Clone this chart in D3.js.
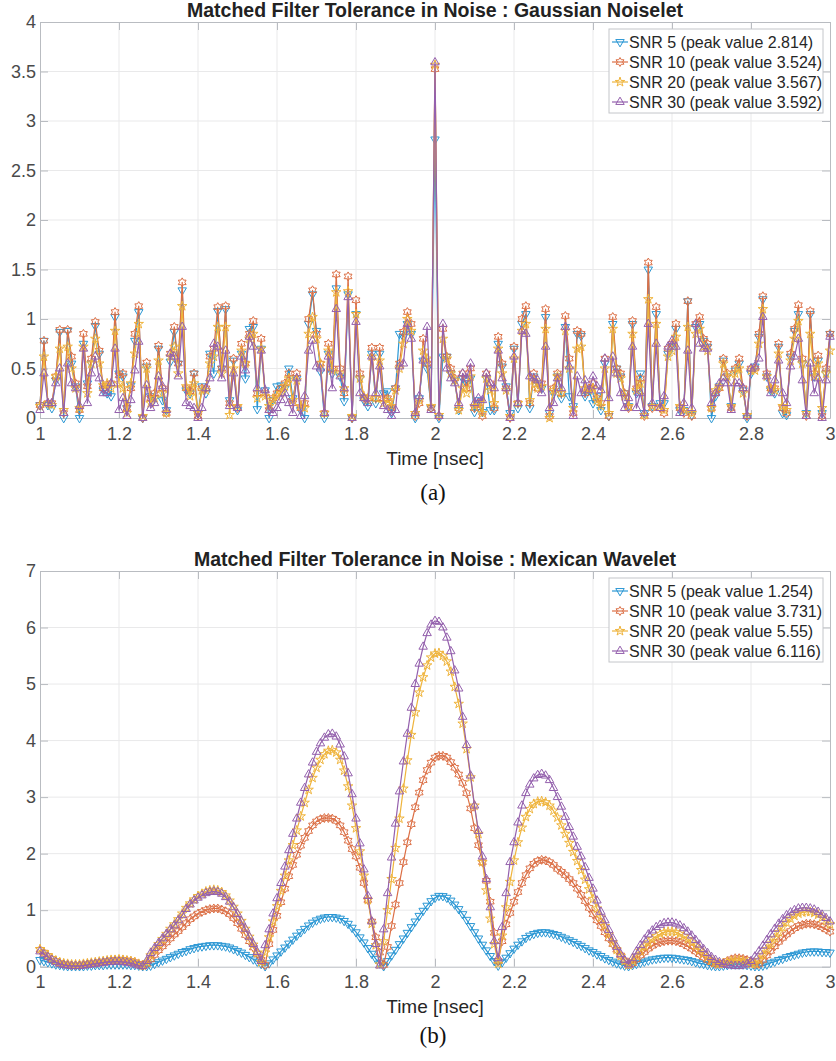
<!DOCTYPE html>
<html>
<head>
<meta charset="utf-8">
<script src="https://cdn.jsdelivr.net/npm/d3@7/dist/d3.min.js"></script>
<style>
  body { margin: 0; background: #fff; }
  svg { display: block; font-family: "Liberation Sans", Arial, Helvetica, sans-serif; }
</style>
</head>
<body>
<svg id="fig" width="836" height="1061"></svg>
<script>
// sampling grid, 1 to 3 nsec in 0.01 steps
var time = d3.range(201).map(function(i) { return 1 + i / 100; });

var seriesNames = ['SNR 5', 'SNR 10', 'SNR 20', 'SNR 30'];
var gaussPeaks = ['2.814', '3.524', '3.567', '3.592'];
var mexPeaks = ['1.254', '3.731', '5.55', '6.116'];

var xTicks = [1, 1.2, 1.4, 1.6, 1.8, 2, 2.2, 2.4, 2.6, 2.8, 3];
var xTickLabels = ['1', '1.2', '1.4', '1.6', '1.8', '2', '2.2', '2.4', '2.6', '2.8', '3'];
var gaussYTicks = [0, 0.5, 1, 1.5, 2, 2.5, 3, 3.5, 4];
var gaussYLabels = ['0', '0.5', '1', '1.5', '2', '2.5', '3', '3.5', '4'];
var mexYTicks = [0, 1, 2, 3, 4, 5, 6, 7];
var mexYLabels = ['0', '1', '2', '3', '4', '5', '6', '7'];

// (a) Gaussian noiselet, matched filter output
var gaussSnr5 = [
  0.13,0.78,0.13,0.10,0.38,0.87,0.00,0.88,0.55,0.32,
  0.00,0.75,0.35,0.55,0.93,0.65,0.28,0.25,0.22,1.02,
  0.45,0.42,0.10,0.33,0.78,1.07,0.00,0.52,0.22,0.20,
  0.70,0.18,0.08,0.57,0.87,0.55,1.29,0.28,0.25,0.45,
  0.05,0.32,0.25,0.65,0.45,1.08,0.50,1.10,0.18,0.58,
  0.08,0.65,0.40,0.90,0.92,0.09,0.70,0.28,0.00,0.18,
  0.32,0.33,0.30,0.50,0.20,0.40,0.08,0.00,0.95,1.25,
  0.88,0.47,0.00,0.65,0.45,1.31,0.42,0.17,1.25,0.00,
  1.05,0.40,0.18,0.12,0.65,0.15,0.65,0.25,0.27,0.05,
  0.30,0.85,0.82,0.95,0.85,0.00,0.20,0.58,0.50,0.10,
  2.814,0.00,0.62,0.62,0.45,0.38,0.08,0.40,0.35,0.40,
  0.06,0.18,0.06,0.40,0.08,0.08,0.75,0.52,0.32,0.05,
  0.70,0.10,0.95,1.05,0.10,0.42,0.35,0.30,1.02,0.05,
  0.25,0.42,0.20,0.92,0.22,0.12,0.85,0.83,0.22,0.28,
  0.15,0.22,0.08,0.55,0.02,0.95,0.50,0.42,0.25,0.12,
  0.95,0.25,0.45,0.05,1.50,0.12,1.05,0.15,0.15,0.65,
  0.72,0.90,0.08,0.08,1.18,0.03,0.92,0.95,0.78,0.72,
  0.00,0.22,0.32,0.58,0.42,0.12,0.48,0.55,0.28,0.00,
  0.45,0.52,0.82,1.20,0.42,0.28,0.25,0.72,0.05,0.03,
  0.62,0.88,1.05,0.55,0.05,1.05,0.42,0.58,0.05,0.45,
  0.85];
var gaussSnr10 = [
  0.13,0.78,0.15,0.15,0.42,0.89,0.05,0.89,0.62,0.35,
  0.08,0.85,0.32,0.60,0.97,0.68,0.30,0.33,0.35,1.07,
  0.43,0.45,0.10,0.30,0.85,1.13,0.00,0.56,0.20,0.25,
  0.73,0.30,0.05,0.65,0.92,0.55,1.37,0.30,0.27,0.45,
  0.02,0.30,0.30,0.62,0.70,1.12,0.50,1.13,0.15,0.60,
  0.10,0.75,0.55,0.85,0.98,0.25,0.80,0.25,0.08,0.20,
  0.25,0.30,0.35,0.45,0.15,0.45,0.10,0.15,1.00,1.29,
  0.85,0.55,0.05,0.75,0.50,1.45,0.50,0.25,1.43,0.00,
  1.19,0.45,0.20,0.20,0.71,0.20,0.71,0.20,0.20,0.10,
  0.30,0.55,0.87,1.07,0.95,0.02,0.15,0.80,0.55,0.10,
  3.524,0.02,0.90,0.62,0.50,0.40,0.10,0.45,0.30,0.50,
  0.10,0.15,0.02,0.45,0.35,0.10,0.82,0.55,0.30,0.00,
  0.72,0.15,1.00,1.13,0.15,0.45,0.30,0.35,1.10,0.02,
  0.30,0.45,0.25,1.03,0.60,0.05,0.88,0.85,0.25,0.30,
  0.35,0.20,0.15,0.60,0.02,1.02,0.50,0.45,0.25,0.10,
  0.98,0.30,0.40,0.02,1.57,0.10,1.12,0.10,0.05,0.70,
  0.75,0.95,0.10,0.05,1.18,0.02,0.95,1.02,0.80,0.75,
  0.10,0.25,0.30,0.60,0.45,0.10,0.50,0.60,0.30,0.02,
  0.50,0.50,0.85,1.23,0.45,0.30,0.30,0.75,0.10,0.05,
  0.65,0.90,1.14,0.60,0.02,1.08,0.45,0.63,0.02,0.50,
  0.85];
var gaussSnr20 = [
  0.12,0.62,0.15,0.13,0.42,0.70,0.08,0.72,0.50,0.30,
  0.10,0.72,0.25,0.55,0.80,0.55,0.33,0.35,0.30,0.88,
  0.35,0.30,0.05,0.35,0.65,0.95,0.02,0.50,0.15,0.20,
  0.58,0.25,0.05,0.62,0.72,0.45,1.13,0.32,0.22,0.35,
  0.05,0.28,0.28,0.55,0.62,0.92,0.45,0.92,0.03,0.50,
  0.12,0.68,0.55,0.80,0.85,0.20,0.70,0.22,0.12,0.18,
  0.22,0.25,0.32,0.40,0.18,0.38,0.12,0.10,0.85,1.02,
  0.80,0.55,0.05,0.68,0.48,1.27,0.45,0.30,1.28,0.02,
  1.05,0.40,0.22,0.18,0.62,0.20,0.58,0.15,0.18,0.12,
  0.28,0.50,0.75,1.00,0.88,0.05,0.18,0.68,0.60,0.12,
  3.567,0.03,0.80,0.60,0.45,0.38,0.08,0.30,0.25,0.42,
  0.12,0.15,0.05,0.40,0.28,0.15,0.70,0.45,0.28,0.02,
  0.60,0.15,0.88,0.95,0.18,0.38,0.30,0.32,0.90,0.00,
  0.28,0.42,0.25,0.88,0.50,0.10,0.70,0.72,0.30,0.28,
  0.30,0.18,0.12,0.50,0.05,0.90,0.45,0.40,0.22,0.12,
  0.85,0.28,0.35,0.03,1.20,0.12,0.95,0.12,0.08,0.62,
  0.68,0.82,0.12,0.08,0.92,0.05,0.85,0.90,0.72,0.68,
  0.10,0.28,0.32,0.55,0.42,0.12,0.45,0.50,0.25,0.03,
  0.48,0.48,0.75,1.10,0.42,0.30,0.28,0.65,0.12,0.08,
  0.58,0.80,0.98,0.55,0.05,0.85,0.42,0.55,0.10,0.45,
  0.68];
var gaussSnr30 = [
  0.08,0.45,0.15,0.15,0.35,0.50,0.05,0.55,0.35,0.30,
  0.12,0.70,0.15,0.45,0.62,0.40,0.25,0.25,0.35,0.70,
  0.08,0.20,0.02,0.18,0.48,0.77,0.00,0.33,0.10,0.15,
  0.42,0.32,0.08,0.65,0.62,0.42,0.92,0.15,0.12,0.10,
  0.00,0.10,0.30,0.40,0.75,0.72,0.40,0.68,0.12,0.45,
  0.10,0.62,0.48,0.82,0.72,0.30,0.68,0.28,0.08,0.05,
  0.10,0.18,0.25,0.15,0.05,0.40,0.02,0.22,0.68,0.78,
  0.52,0.50,0.05,0.62,0.30,1.10,0.42,0.30,1.22,0.00,
  0.97,0.25,0.20,0.15,0.62,0.25,0.52,0.12,0.08,0.02,
  0.08,0.52,0.55,0.95,0.80,0.05,0.22,0.58,0.92,0.08,
  3.592,0.02,0.95,0.50,0.40,0.35,0.15,0.45,0.40,0.55,
  0.15,0.20,0.18,0.45,0.35,0.30,0.68,0.40,0.30,0.00,
  0.62,0.15,0.88,0.85,0.42,0.40,0.38,0.25,0.72,0.10,
  0.15,0.40,0.30,0.92,0.52,0.02,0.42,0.25,0.38,0.28,
  0.42,0.32,0.28,0.60,0.20,0.62,0.45,0.25,0.10,0.20,
  0.72,0.10,0.25,0.05,0.95,0.15,0.75,0.10,0.22,0.72,
  0.78,0.72,0.05,0.15,0.68,0.10,0.95,0.75,0.70,0.70,
  0.15,0.25,0.35,0.40,0.35,0.08,0.35,0.35,0.30,0.02,
  0.50,0.52,0.60,1.02,0.42,0.25,0.38,0.58,0.25,0.15,
  0.52,0.62,0.80,0.38,0.02,0.55,0.25,0.40,0.00,0.38,
  0.82];

// (b) Mexican wavelet, matched filter output
var mexSnr5 = [
  0.12,0.10,0.08,0.06,0.04,0.03,0.02,0.01,0.01,0.01,
  0.01,0.01,0.02,0.02,0.03,0.03,0.03,0.04,0.04,0.04,
  0.04,0.04,0.04,0.03,0.03,0.02,0.01,0.01,0.02,0.05,
  0.08,0.11,0.14,0.17,0.20,0.23,0.26,0.28,0.31,0.33,
  0.35,0.36,0.37,0.38,0.38,0.38,0.37,0.36,0.34,0.31,
  0.28,0.25,0.21,0.17,0.13,0.09,0.05,0.01,0.06,0.13,
  0.20,0.27,0.34,0.41,0.48,0.55,0.61,0.67,0.73,0.78,
  0.82,0.85,0.87,0.88,0.88,0.87,0.85,0.81,0.76,0.69,
  0.61,0.52,0.43,0.33,0.23,0.14,0.06,0.01,0.10,0.20,
  0.30,0.40,0.50,0.60,0.70,0.80,0.90,0.99,1.08,1.16,
  1.22,1.254,1.25,1.22,1.17,1.10,1.02,0.93,0.83,0.72,
  0.61,0.50,0.39,0.29,0.19,0.10,0.02,0.08,0.16,0.24,
  0.32,0.39,0.45,0.51,0.55,0.58,0.60,0.61,0.61,0.60,
  0.58,0.56,0.53,0.50,0.47,0.44,0.40,0.37,0.33,0.29,
  0.26,0.22,0.19,0.15,0.12,0.09,0.06,0.04,0.02,0.01,
  0.03,0.05,0.07,0.09,0.11,0.13,0.14,0.15,0.16,0.16,
  0.16,0.15,0.14,0.13,0.12,0.10,0.08,0.06,0.05,0.03,
  0.02,0.01,0.01,0.02,0.03,0.04,0.04,0.04,0.04,0.03,
  0.02,0.01,0.01,0.02,0.04,0.07,0.09,0.12,0.14,0.17,
  0.19,0.21,0.23,0.25,0.26,0.27,0.27,0.27,0.26,0.26,
  0.25];
var mexSnr10 = [
  0.30,0.25,0.19,0.14,0.10,0.07,0.05,0.04,0.03,0.03,
  0.03,0.04,0.05,0.06,0.07,0.08,0.09,0.10,0.11,0.12,
  0.12,0.12,0.11,0.10,0.08,0.05,0.02,0.05,0.13,0.21,
  0.29,0.36,0.43,0.50,0.57,0.63,0.70,0.77,0.84,0.89,
  0.94,0.97,1.00,1.02,1.03,1.03,1.01,0.98,0.93,0.86,
  0.77,0.67,0.56,0.45,0.34,0.23,0.12,0.03,0.40,0.65,
  0.90,1.14,1.38,1.60,1.80,1.98,2.14,2.28,2.40,2.50,
  2.57,2.61,2.63,2.63,2.62,2.58,2.50,2.38,2.23,2.08,
  1.95,1.75,1.48,1.18,0.80,0.52,0.25,0.03,0.35,0.72,
  1.10,1.48,1.85,2.20,2.52,2.82,3.08,3.30,3.48,3.61,
  3.70,3.731,3.73,3.70,3.62,3.52,3.40,3.25,3.07,2.80,
  2.45,2.15,1.85,1.52,1.15,0.60,0.10,0.45,0.75,0.95,
  1.15,1.32,1.48,1.62,1.74,1.82,1.87,1.89,1.88,1.85,
  1.80,1.73,1.68,1.62,1.55,1.48,1.38,1.27,1.16,1.04,
  0.93,0.82,0.72,0.61,0.50,0.40,0.30,0.20,0.11,0.04,
  0.06,0.13,0.20,0.26,0.32,0.37,0.41,0.43,0.45,0.46,
  0.46,0.45,0.43,0.40,0.36,0.32,0.27,0.22,0.17,0.12,
  0.08,0.05,0.05,0.07,0.10,0.13,0.15,0.15,0.14,0.12,
  0.08,0.04,0.05,0.12,0.20,0.28,0.36,0.44,0.51,0.57,
  0.63,0.68,0.72,0.74,0.76,0.76,0.75,0.73,0.70,0.66,
  0.62];
var mexSnr20 = [
  0.31,0.26,0.20,0.15,0.11,0.08,0.06,0.05,0.04,0.04,
  0.04,0.05,0.06,0.07,0.08,0.09,0.10,0.11,0.12,0.12,
  0.13,0.12,0.11,0.10,0.08,0.05,0.02,0.08,0.20,0.30,
  0.40,0.49,0.58,0.67,0.75,0.84,0.94,1.04,1.12,1.19,
  1.25,1.29,1.33,1.35,1.36,1.35,1.32,1.26,1.17,1.06,
  0.94,0.81,0.67,0.53,0.39,0.24,0.08,0.25,0.52,0.80,
  1.07,1.34,1.61,1.88,2.15,2.41,2.66,2.90,3.13,3.34,
  3.52,3.66,3.76,3.82,3.83,3.79,3.66,3.47,3.19,2.85,
  2.45,2.04,1.61,1.18,0.76,0.38,0.04,0.45,1.00,1.55,
  2.10,2.62,3.15,3.65,4.10,4.50,4.85,5.12,5.33,5.47,
  5.54,5.55,5.50,5.40,5.22,4.95,4.65,4.30,3.85,3.35,
  2.85,2.35,1.85,1.35,0.85,0.40,0.05,0.55,1.05,1.50,
  1.88,2.20,2.46,2.65,2.79,2.88,2.92,2.93,2.91,2.85,
  2.76,2.64,2.50,2.35,2.19,2.03,1.87,1.71,1.54,1.37,
  1.20,1.03,0.87,0.72,0.57,0.43,0.30,0.19,0.10,0.03,
  0.10,0.19,0.28,0.36,0.43,0.49,0.54,0.58,0.61,0.62,
  0.62,0.61,0.58,0.54,0.49,0.43,0.37,0.30,0.23,0.17,
  0.11,0.07,0.05,0.06,0.08,0.10,0.11,0.11,0.10,0.08,
  0.05,0.05,0.12,0.21,0.31,0.41,0.51,0.61,0.70,0.78,
  0.85,0.90,0.94,0.96,0.97,0.97,0.95,0.92,0.87,0.81,
  0.75];
var mexSnr30 = [
  0.27,0.22,0.17,0.12,0.08,0.05,0.03,0.02,0.01,0.01,
  0.01,0.02,0.03,0.04,0.05,0.06,0.07,0.08,0.08,0.09,
  0.09,0.08,0.07,0.06,0.04,0.02,0.01,0.10,0.24,0.33,
  0.42,0.50,0.58,0.66,0.73,0.82,0.91,1.02,1.10,1.17,
  1.22,1.26,1.30,1.32,1.33,1.32,1.29,1.23,1.15,1.05,
  0.93,0.80,0.67,0.53,0.40,0.26,0.10,0.38,0.66,0.94,
  1.21,1.48,1.77,2.06,2.35,2.62,2.90,3.16,3.40,3.61,
  3.80,3.95,4.05,4.11,4.12,4.07,3.93,3.72,3.42,3.05,
  2.62,2.18,1.72,1.25,0.80,0.40,0.02,0.66,1.30,1.93,
  2.53,3.10,3.63,4.12,4.58,5.00,5.36,5.66,5.90,6.05,
  6.116,6.10,6.00,5.82,5.58,5.24,4.92,4.42,3.92,3.38,
  2.85,2.40,1.95,1.55,1.05,0.45,0.15,0.70,1.30,1.85,
  2.20,2.55,2.85,3.07,3.22,3.33,3.39,3.41,3.38,3.30,
  3.16,3.00,2.83,2.65,2.47,2.30,2.12,1.95,1.76,1.57,
  1.38,1.17,0.97,0.82,0.65,0.50,0.35,0.22,0.12,0.04,
  0.15,0.27,0.38,0.48,0.57,0.64,0.70,0.74,0.77,0.78,
  0.78,0.76,0.73,0.68,0.62,0.55,0.47,0.39,0.31,0.24,
  0.17,0.12,0.08,0.05,0.03,0.02,0.01,0.01,0.02,0.05,
  0.10,0.18,0.27,0.37,0.47,0.57,0.67,0.76,0.84,0.91,
  0.96,1.00,1.03,1.04,1.04,1.03,1.01,0.97,0.92,0.86,
  0.80];

// styling (MATLAB-like colour order and markers)
var colors = ['#2a97d4', '#dc6f45', '#efb43c', '#9460ad'];
var markerKinds = ['triDown', 'hexagram', 'star', 'triUp'];

var panels = [
  {
    title: 'Matched Filter Tolerance in Noise : Gaussian Noiselet',
    caption: '(a)', captionY: 492,
    top: 22, bottom: 418, yMax: 4,
    yTicks: gaussYTicks, yLabels: gaussYLabels,
    series: [gaussSnr5, gaussSnr10, gaussSnr20, gaussSnr30],
    peaks: gaussPeaks
  },
  {
    title: 'Matched Filter Tolerance in Noise : Mexican Wavelet',
    caption: '(b)', captionY: 1035,
    top: 571, bottom: 966.7, yMax: 7,
    yTicks: mexYTicks, yLabels: mexYLabels,
    series: [mexSnr5, mexSnr10, mexSnr20, mexSnr30],
    peaks: mexPeaks
  }
];

var plotLeft = 40, plotRight = 830, tickLen = 8;

function hexagram(r) {
  var pts = [];
  for (var k = 0; k < 12; k++) {
    var a = Math.PI / 6 * k - Math.PI / 2;
    var rr = k % 2 ? r * 0.58 : r;
    pts.push([rr * Math.cos(a), rr * Math.sin(a)]);
  }
  return 'M' + pts.join('L') + 'Z';
}

var markerPaths = {
  triDown: d3.symbol().type(d3.symbolTriangle).size(31)(),
  triUp: d3.symbol().type(d3.symbolTriangle).size(31)(),
  star: d3.symbol().type(d3.symbolStar).size(28)(),
  hexagram: hexagram(4.5)
};

function markerTransform(kind, px, py) {
  var t = 'translate(' + px + ',' + py + ')';
  if (kind === 'triDown') t += ' rotate(180)';
  return t;
}

var svg = d3.select('#fig');

function drawPanel(p) {
  var x = d3.scaleLinear().domain([1, 3]).range([plotLeft, plotRight]);
  var y = d3.scaleLinear().domain([0, p.yMax]).range([p.bottom, p.top]);

  var g = svg.append('g');

  // grid
  var grid = g.append('g').attr('stroke', '#e9e9ea').attr('stroke-width', 1);
  grid.selectAll('line.gx').data(xTicks.slice(1, -1)).enter().append('line')
    .attr('x1', function(d) { return x(d); }).attr('x2', function(d) { return x(d); })
    .attr('y1', p.top).attr('y2', p.bottom);
  grid.selectAll('line.gy').data(p.yTicks.slice(1, -1)).enter().append('line')
    .attr('y1', function(d) { return y(d); }).attr('y2', function(d) { return y(d); })
    .attr('x1', plotLeft).attr('x2', plotRight);

  // axes: ticks point inward, box on
  var fmtX = function(d, i) { return xTickLabels[i]; };
  var fmtY = function(d, i) { return p.yLabels[i]; };
  var axes = [
    g.append('g').attr('transform', 'translate(0,' + p.bottom + ')')
      .call(d3.axisBottom(x).tickValues(xTicks).tickFormat(fmtX).tickSize(-tickLen).tickSizeOuter(0).tickPadding(9)),
    g.append('g').attr('transform', 'translate(' + plotLeft + ',0)')
      .call(d3.axisLeft(y).tickValues(p.yTicks).tickFormat(fmtY).tickSize(-tickLen).tickSizeOuter(0).tickPadding(4)),
    g.append('g').attr('transform', 'translate(0,' + p.top + ')')
      .call(d3.axisTop(x).tickValues(xTicks).tickFormat('').tickSize(-tickLen).tickSizeOuter(0)),
    g.append('g').attr('transform', 'translate(' + plotRight + ',0)')
      .call(d3.axisRight(y).tickValues(p.yTicks).tickFormat('').tickSize(-tickLen).tickSizeOuter(0))
  ];
  axes.forEach(function(a) {
    a.attr('font-family', null).attr('font-size', 18);
    a.select('.domain').attr('stroke', '#b9bcc1');
    a.selectAll('.tick line').attr('stroke', '#b9bcc1');
    a.selectAll('.tick text').attr('fill', '#4a4a4a');
  });

  // series, first drawn at the bottom
  p.series.forEach(function(vals, s) {
    var line = d3.line()
      .x(function(d, i) { return x(time[i]); })
      .y(function(d) { return y(d); });
    var sg = g.append('g');
    sg.append('path')
      .attr('d', line(vals))
      .attr('fill', 'none')
      .attr('stroke', colors[s])
      .attr('stroke-width', 1.2)
      .attr('stroke-linejoin', 'round');
    sg.selectAll('path.mk').data(vals).enter().append('path')
      .attr('class', 'mk')
      .attr('d', markerPaths[markerKinds[s]])
      .attr('transform', function(d, i) { return markerTransform(markerKinds[s], x(time[i]), y(d)); })
      .attr('fill', 'none')
      .attr('stroke', colors[s])
      .attr('stroke-width', 1);
  });

  // title
  svg.append('text')
    .attr('x', (plotLeft + plotRight) / 2).attr('y', p.top - 12)
    .attr('dy', '0.35em')
    .attr('text-anchor', 'middle')
    .attr('font-size', 19.5).attr('font-weight', 'bold')
    .attr('fill', '#222')
    .text(p.title);

  // x label
  svg.append('text')
    .attr('x', (plotLeft + plotRight) / 2).attr('y', p.bottom + 40)
    .attr('dy', '0.35em')
    .attr('text-anchor', 'middle')
    .attr('font-size', 19).attr('fill', '#262626')
    .text('Time [nsec]');

  // legend
  var lx = 609, ly = p.top + 7;
  var leg = svg.append('g');
  leg.append('rect')
    .attr('x', lx).attr('y', ly).attr('width', 214).attr('height', 84)
    .attr('fill', '#fff').attr('stroke', '#c4c6ca').attr('stroke-width', 1);
  seriesNames.forEach(function(name, s) {
    var ey = ly + 13 + 20 * s;
    leg.append('line')
      .attr('x1', lx + 3).attr('x2', lx + 19).attr('y1', ey).attr('y2', ey)
      .attr('stroke', colors[s]).attr('stroke-width', 1.2);
    leg.append('path')
      .attr('d', markerPaths[markerKinds[s]])
      .attr('transform', markerTransform(markerKinds[s], lx + 11, ey))
      .attr('fill', 'none').attr('stroke', colors[s]).attr('stroke-width', 1);
    leg.append('text')
      .attr('x', lx + 20).attr('y', ey).attr('dy', '0.36em')
      .attr('font-size', 16).attr('fill', '#262626')
      .text(name + ' (peak value ' + p.peaks[s] + ')');
  });

  // caption
  svg.append('text')
    .attr('x', 433).attr('y', p.captionY).attr('dy', '0.35em')
    .attr('text-anchor', 'middle')
    .attr('font-family', '"Liberation Serif", "Times New Roman", serif')
    .attr('font-size', 23).attr('fill', '#111')
    .text(p.caption);
}

panels.forEach(drawPanel);
</script>
</body>
</html>
